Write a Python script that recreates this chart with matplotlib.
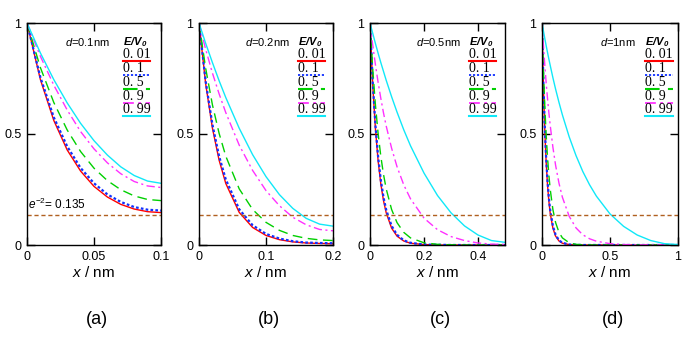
import matplotlib

matplotlib.use("Agg")
import matplotlib.pyplot as plt

plt.rcParams['font.family'] = ['Liberation Sans', 'DejaVu Sans']
plt.rcParams['mathtext.fontset'] = 'custom'
plt.rcParams['mathtext.rm'] = 'Liberation Sans'
plt.rcParams['mathtext.it'] = 'Liberation Sans:italic'
plt.rcParams['mathtext.bf'] = 'Liberation Sans:italic:bold'

# --- data (normalised |psi|^2 inside the barrier) ---
E_RATIOS = ["0. 01", "0. 1", "0. 5", "0. 9", "0. 99"]
E2 = 0.135  # e^-2 reference level

# (a) d = 0.1 nm
X_A = [0, .01, .02, .03, .04, .05, .06, .07, .08, .09, .1]
Y_A = [
    [1, .745, .561, .428, .333, .264, .216, .183, .162, .150, .146],
    [1, .755, .575, .444, .347, .278, .228, .194, .171, .159, .155],
    [1, .799, .642, .518, .421, .346, .290, .249, .221, .205, .200],
    [1, .850, .720, .608, .511, .433, .370, .321, .286, .266, .259],
    [1, .865, .745, .640, .548, .470, .405, .352, .313, .288, .278],
]

# (b) d = 0.2 nm
X_B = [0, .01, .02, .03, .04, .06, .08, .10, .12, .14, .16, .18, .20]
Y_B = [
    [1, .725, .527, .382, .277, .147, .079, .043, .024, .014, .009, .007, .006],
    [1, .736, .543, .400, .295, .161, .089, .050, .029, .017, .011, .009, .008],
    [1, .795, .632, .503, .400, .253, .160, .102, .066, .043, .030, .023, .020],
    [1, .881, .775, .681, .596, .450, .336, .245, .177, .125, .091, .070, .064],
    [1, .908, .822, .740, .664, .526, .407, .308, .227, .165, .120, .094, .085],
]

# (c) d = 0.5 nm
X_C = [0, .01, .02, .03, .04, .05, .06, .08, .10, .125, .15, .2, .25, .3, .35, .4, .45, .5]
Y_C = [
    [1, .724, .525, .380, .275, .200, .145, .076, .040, .018, .008, .002, 0, 0, 0, 0, 0, 0],
    [1, .735, .541, .398, .293, .215, .158, .086, .046, .021, .010, .002, .001, 0, 0, 0, 0, 0],
    [1, .795, .632, .503, .400, .318, .253, .160, .101, .057, .032, .010, .003, .001, 0, 0, 0, 0],
    [1, .901, .813, .733, .661, .595, .536, .436, .353, .271, .208, .121, .069, .038, .020, .009, .004, .002],
    [1, .954, .908, .864, .822, .782, .742, .668, .599, .519, .447, .324, .223, .145, .086, .045, .020, .012],
]

# (d) d = 1 nm
X_D = [0, .01, .02, .03, .04, .05, .06, .08, .10, .125, .15, .2, .25, .3, .35, .4, .5, .6, .7, .8, .9, 1.0]
Y_D = [
    [1, .724, .525, .380, .275, .200, .145, .076, .040, .018, .008, .002, 0, 0, 0, 0, 0, 0, 0, 0, 0, 0],
    [1, .735, .541, .398, .293, .215, .158, .086, .046, .021, .010, .002, .001, 0, 0, 0, 0, 0, 0, 0, 0, 0],
    [1, .795, .632, .503, .400, .318, .253, .160, .101, .057, .032, .010, .003, .001, 0, 0, 0, 0, 0, 0, 0, 0],
    [1, .903, .815, .735, .664, .599, .541, .441, .359, .278, .215, .129, .077, .046, .028, .017, .006, .002, .001, 0, 0, 0],
    [1, .966, .932, .900, .869, .839, .810, .754, .702, .642, .586, .487, .403, .331, .271, .220, .140, .084, .045, .020, .006, .002],
]

PANELS = [
    ("(a)", "0.1nm", X_A, Y_A, [0, 0.05, 0.1], ["0", "0.05", "0.1"]),
    ("(b)", "0.2nm", X_B, Y_B, [0, 0.1, 0.2], ["0", "0.1", "0.2"]),
    ("(c)", "0.5nm", X_C, Y_C, [0, 0.2, 0.4], ["0", "0.2", "0.4"]),
    ("(d)", "1nm", X_D, Y_D, [0, 0.5, 1], ["0", "0.5", "1"]),
]

COLORS = ["#ff0000", "#1030ff", "#00d000", "#ff30ff", "#10e8f8"]
STYLES = ["-", (0, (1.2, 1.0)), (0, (7, 4)), (0, (6, 2.5, 1.5, 2.5)), "-"]
WIDTHS = [1.0, 1.6, 1.0, 1.0, 1.0]
LEG_WIDTHS = [1.5, 1.3, 1.5, 1.3, 1.5]

# axes boxes in pixels
LEFTS = [27, 199, 370, 542]
RIGHTS = [161, 333, 505, 678]
TOP, BOTTOM = 23, 245
W, H = 692, 346
LEG_X = [0.72, 0.74, 0.73, 0.76]
DTXT_X = [0.28, 0.34, 0.34, 0.43]

fig = plt.figure(figsize=(W / 100, H / 100), dpi=100)

for i, (tag, dtxt, xs, ys, xt, xtl) in enumerate(PANELS):
    l, r = LEFTS[i], RIGHTS[i]
    ax = fig.add_axes([l / W, 1 - BOTTOM / H, (r - l) / W, (BOTTOM - TOP) / H])
    for k, y in enumerate(ys):
        ax.plot(xs, y, color=COLORS[k], ls=STYLES[k], lw=WIDTHS[k])
    ax.axhline(E2, color="#b06020", ls=(0, (3, 2)), lw=1.0)

    ax.set_xlim(0, xs[-1])
    ax.set_ylim(0, 1)
    ax.set_xticks(xt)
    ax.set_xticklabels(xtl)
    ax.set_yticks([0, 0.5, 1])
    ax.set_yticklabels(["0", "0.5", "1"])
    ax.tick_params(direction="in", top=True, right=True, length=6, width=1,
                   labelsize=9, pad=4)
    for sp in ax.spines.values():
        sp.set_linewidth(1.0)
    ax.set_xlabel("$x$ / nm", fontsize=11, labelpad=2)

    ax.text(DTXT_X[i], 0.915, "$d$=" + dtxt, transform=ax.transAxes,
            fontsize=8, va="center")

    # hand-made legend: label text sitting on its line sample
    lx = LEG_X[i]
    ax.text(lx, 0.915, r"$\mathbf{E/V_0}$", transform=ax.transAxes,
            fontsize=8, va="center")
    for k, lab in enumerate(E_RATIOS):
        yl = 0.827 - 0.062 * k
        ax.text(lx, yl + 0.014, lab, transform=ax.transAxes, fontsize=10,
                family="Liberation Serif", va="baseline")
        ax.plot([lx, lx + 0.2], [yl, yl], transform=ax.transAxes,
                color=COLORS[k], ls=STYLES[k], lw=LEG_WIDTHS[k])

    if i == 0:
        ax.text(0.01, E2 + 0.015, "$e^{-2}$= 0.135", transform=ax.get_yaxis_transform(),
                fontsize=8.5, va="bottom")

    fig.text((l + r) / 2 / W + 0.004, 1 - 320 / H, tag, fontsize=13,
             ha="center", va="center")

fig.savefig("out.png", dpi=100)
